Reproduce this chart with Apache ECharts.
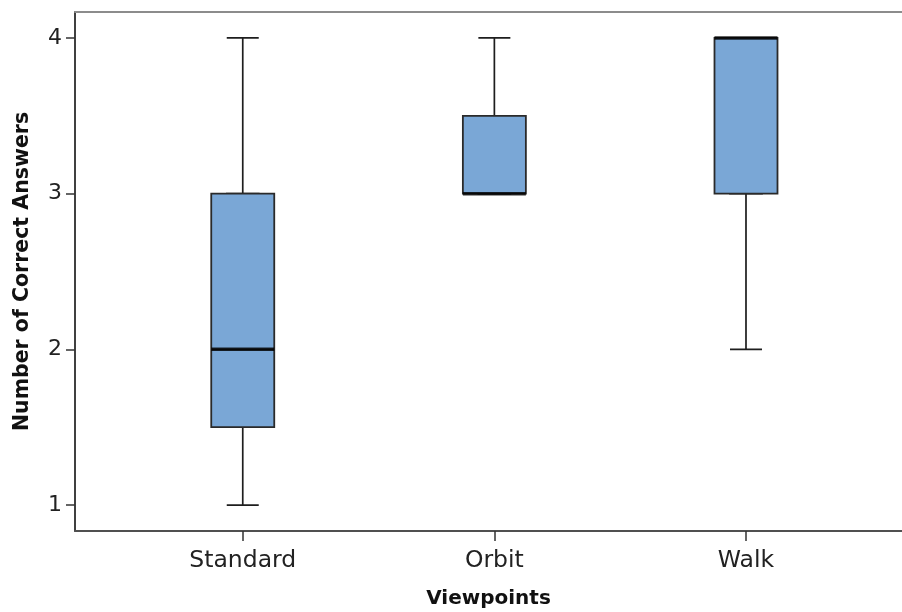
<!DOCTYPE html>
<html>
<head>
<meta charset="utf-8">
<script src="https://cdn.jsdelivr.net/npm/echarts@6/dist/echarts.min.js"></script>
<style>
html,body{margin:0;padding:0;background:#fff;}
#chart{width:902px;height:612px;}
</style>
</head>
<body>
<div id="chart"></div>
<script>
const categories = ['Standard', 'Orbit', 'Walk'];
const positions = [1, 2, 3];
const mins = [1, 3, 2];
const q1s = [1.5, 3, 3];
const medians = [2, 3, 4];
const q3s = [3, 3.5, 4];
const maxs = [4, 4, 4];
const yTicks = [1, 2, 3, 4];

const fullData = positions.map((x, i) => [x, mins[i], q1s[i], medians[i], q3s[i], maxs[i]]);
const boxData = positions.map((x, i) => [x, q1s[i], q1s[i], medians[i], q3s[i], q3s[i]]);
const medianData = positions.map((x, i) => [x, medians[i]]);

const FONT = 'DejaVu Sans';
const X_MIN = 1/3, X_MAX = 3.62;
const chart = echarts.init(document.getElementById('chart'), null, {renderer: 'canvas'});
chart.setOption({
  animation: false,
  backgroundColor: '#ffffff',
  grid: {left: 75, top: 12, right: 0, height: 519, outerBoundsMode: 'none', containLabel: false},
  xAxis: [{
    type: 'value',
    min: X_MIN, max: X_MAX,
    name: 'Viewpoints',
    nameLocation: 'middle',
    nameGap: 58,
    nameTextStyle: {fontFamily: FONT, fontSize: 20, fontWeight: 'bold', color: '#111'},
    axisLine: {show: true, lineStyle: {color: '#505050', width: 2}},
    axisTick: {show: true, length: 10, customValues: positions, lineStyle: {color: '#333', width: 1.5}},
    axisLabel: {
      customValues: positions, margin: 18,
      fontFamily: FONT, fontSize: 23.5, color: '#222',
      formatter: v => categories[positions.indexOf(v)] || ''
    },
    splitLine: {show: false}
  }, {
    type: 'value',
    position: 'top',
    min: X_MIN, max: X_MAX,
    axisLine: {show: true, onZero: false, lineStyle: {color: '#8c8c8c', width: 2}},
    axisTick: {show: false},
    axisLabel: {show: false},
    splitLine: {show: false}
  }],
  yAxis: {
    type: 'value',
    min: 5/6, max: 25/6,
    name: 'Number of Correct Answers',
    nameLocation: 'middle',
    nameGap: 42,
    nameTextStyle: {fontFamily: FONT, fontSize: 20.5, fontWeight: 'bold', color: '#111'},
    axisLine: {show: true, onZero: false, lineStyle: {color: '#404040', width: 2}},
    axisTick: {show: true, length: 9, customValues: yTicks, lineStyle: {color: '#333', width: 1.5}},
    axisLabel: {
      customValues: yTicks, margin: 13,
      fontFamily: FONT, fontSize: 22, color: '#222'
    },
    splitLine: {show: false}
  },
  series: [
    {
      type: 'boxplot',
      layout: 'horizontal',
      xAxisIndex: 0,
      silent: true,
      z: 2,
      boxWidth: [32, 32],
      data: fullData,
      itemStyle: {color: '#7aa7d6', borderColor: '#1e1e1e', borderWidth: 1.7},
      emphasis: {disabled: true}
    },
    {
      type: 'boxplot',
      layout: 'horizontal',
      xAxisIndex: 1,
      silent: true,
      z: 3,
      boxWidth: [63, 63],
      data: boxData,
      itemStyle: {color: '#7aa7d6', borderColor: '#2a2a2a', borderWidth: 1.8},
      emphasis: {disabled: true}
    },
    {
      type: 'scatter',
      xAxisIndex: 0,
      silent: true,
      z: 4,
      symbol: 'rect',
      symbolSize: [63, 3.5],
      data: medianData,
      itemStyle: {color: '#000'},
      emphasis: {disabled: true}
    }
  ]
});
</script>
</body>
</html>
